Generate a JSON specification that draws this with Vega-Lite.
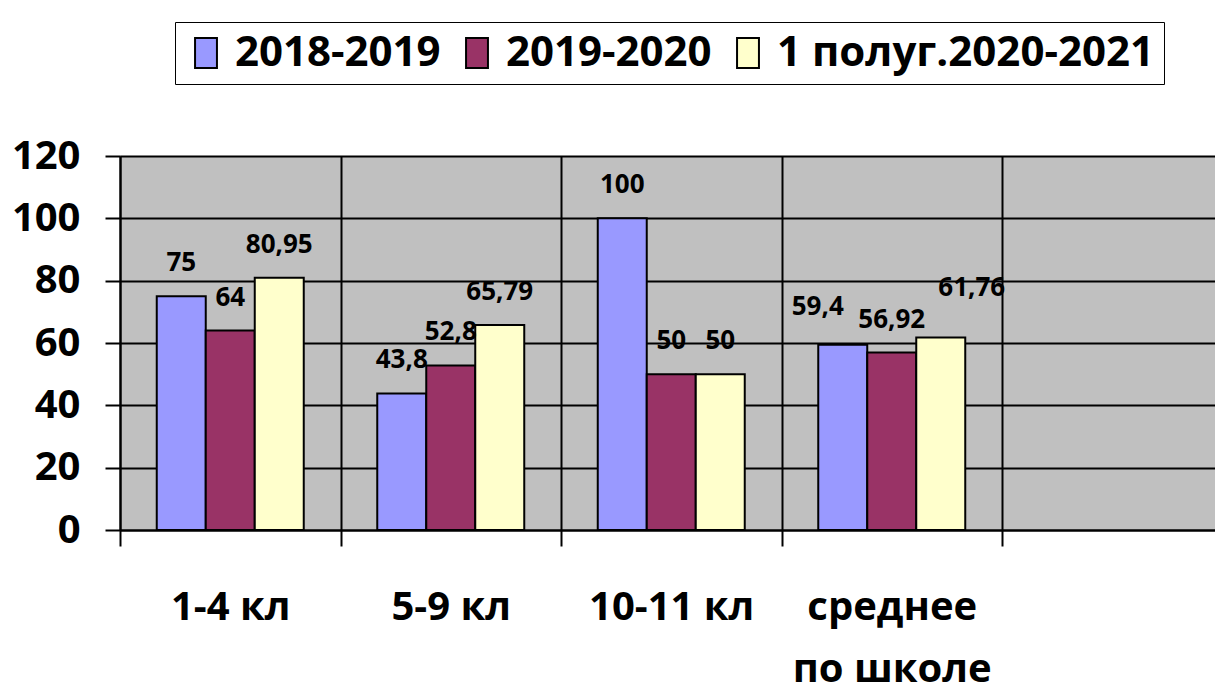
{
  "$schema": "https://vega.github.io/schema/vega-lite/v6.json",
  "width": 1095,
  "height": 374,
  "autosize": {"type": "none"},
  "padding": {"left": 120, "top": 156, "right": 0, "bottom": 157},
  "background": "white",
  "config": {
    "view": {"fill": "#C0C0C0", "stroke": null},
    "locale": {"number": {"decimal": ",", "thousands": " ", "grouping": [3], "currency": ["", ""]}}
  },
  "data": {
    "values": [
      {"cat": "1-4 кл", "year": "2018-2019", "value": 75},
      {"cat": "1-4 кл", "year": "2019-2020", "value": 64},
      {"cat": "1-4 кл", "year": "1 полуг.2020-2021", "value": 80.95},
      {"cat": "5-9 кл", "year": "2018-2019", "value": 43.8},
      {"cat": "5-9 кл", "year": "2019-2020", "value": 52.8},
      {"cat": "5-9 кл", "year": "1 полуг.2020-2021", "value": 65.79},
      {"cat": "10-11 кл", "year": "2018-2019", "value": 100},
      {"cat": "10-11 кл", "year": "2019-2020", "value": 50},
      {"cat": "10-11 кл", "year": "1 полуг.2020-2021", "value": 50},
      {"cat": "среднее по школе", "year": "2018-2019", "value": 59.4},
      {"cat": "среднее по школе", "year": "2019-2020", "value": 56.92},
      {"cat": "среднее по школе", "year": "1 полуг.2020-2021", "value": 61.76}
    ]
  },
  "encoding": {
    "x": {
      "field": "cat",
      "type": "nominal",
      "sort": null,
      "scale": {
        "domain": ["1-4 кл", "5-9 кл", "10-11 кл", "среднее по школе", " "],
        "range": [0, 1102.5],
        "paddingInner": 0,
        "paddingOuter": 0
      },
      "axis": {
        "title": null,
        "tickBand": "extent",
        "grid": true,
        "gridColor": "black",
        "gridWidth": 2,
        "gridOpacity": 1,
        "ticks": true,
        "tickSize": 16,
        "tickColor": "black",
        "tickWidth": 2,
        "domainColor": "black",
        "domainWidth": 2,
        "labelAngle": 0,
        "labelFont": "Open Sans",
        "labelFontSize": 40,
        "labelFontWeight": "bold",
        "labelColor": "black",
        "labelPadding": 41,
        "labelLineHeight": 62,
        "labelLimit": 400,
        "labelExpr": "datum.value == 'среднее по школе' ? ['среднее', 'по школе'] : datum.label"
      }
    },
    "xOffset": {
      "field": "year",
      "type": "nominal",
      "sort": null,
      "scale": {
        "domain": ["2018-2019", "2019-2020", "1 полуг.2020-2021"],
        "paddingInner": 0,
        "paddingOuter": 0.75
      }
    },
    "y": {
      "field": "value",
      "type": "quantitative",
      "scale": {"domain": [0, 120], "nice": false},
      "axis": {
        "title": null,
        "values": [0, 20, 40, 60, 80, 100, 120],
        "grid": true,
        "gridColor": "black",
        "gridWidth": 2,
        "gridOpacity": 1,
        "tickSize": 15,
        "tickColor": "black",
        "tickWidth": 2,
        "domainColor": "black",
        "domainWidth": 2,
        "labelFont": "Open Sans",
        "labelFontSize": 40,
        "labelFontWeight": "bold",
        "labelColor": "black",
        "labelPadding": 25,
        "format": "d"
      }
    }
  },
  "layer": [
    {
      "mark": {"type": "bar", "stroke": "black", "strokeWidth": 2, "opacity": 1},
      "encoding": {
        "color": {
          "field": "year",
          "type": "nominal",
          "sort": null,
          "scale": {
            "domain": ["2018-2019", "2019-2020", "1 полуг.2020-2021"],
            "range": ["#9999FF", "#993366", "#FFFFCC"]
          },
          "legend": {
            "orient": "none",
            "legendX": 55,
            "legendY": -134,
            "direction": "horizontal",
            "title": null,
            "labelFont": "Open Sans",
            "labelFontSize": 42,
            "labelFontWeight": "bold",
            "labelColor": "black",
            "labelLimit": 600,
            "labelOffset": 8,
            "columnPadding": 15,
            "symbolType": "M-0.73,-1H0.73V1H-0.73Z",
            "symbolSize": 900,
            "symbolStrokeColor": "black",
            "symbolStrokeWidth": 2,
            "symbolOpacity": 1,
            "strokeColor": "black",
            "fillColor": "white",
            "padding": 10
          }
        }
      }
    },
    {
      "transform": [
        {"filter": "!(datum.cat == 'среднее по школе' && datum.year != '2019-2020')"}
      ],
      "mark": {
        "type": "text",
        "font": "Open Sans",
        "fontSize": 26,
        "fontWeight": "bold",
        "color": "black",
        "baseline": "middle",
        "dy": -33
      },
      "encoding": {
        "text": {"field": "value", "type": "quantitative", "format": "~g"}
      }
    },
    {
      "transform": [
        {"filter": "datum.cat == 'среднее по школе' && datum.year == '2018-2019'"}
      ],
      "mark": {
        "type": "text",
        "font": "Open Sans",
        "fontSize": 26,
        "fontWeight": "bold",
        "color": "black",
        "baseline": "middle",
        "dx": -25,
        "dy": -38
      },
      "encoding": {
        "text": {"field": "value", "type": "quantitative", "format": "~g"}
      }
    },
    {
      "transform": [
        {"filter": "datum.cat == 'среднее по школе' && datum.year == '1 полуг.2020-2021'"}
      ],
      "mark": {
        "type": "text",
        "font": "Open Sans",
        "fontSize": 26,
        "fontWeight": "bold",
        "color": "black",
        "baseline": "middle",
        "dx": 31,
        "dy": -50
      },
      "encoding": {
        "text": {"field": "value", "type": "quantitative", "format": "~g"}
      }
    }
  ]
}
